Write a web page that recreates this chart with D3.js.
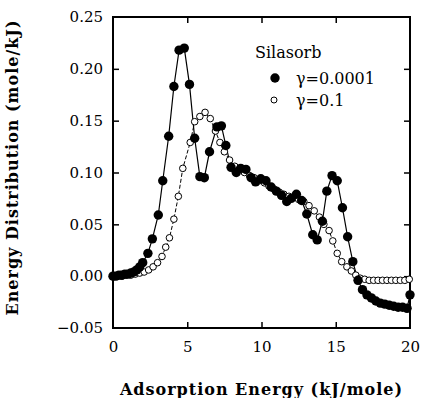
<!DOCTYPE html>
<html>
<head>
<meta charset="utf-8">
<script src="https://cdn.jsdelivr.net/npm/d3@7"></script>
<style>
    body { margin: 0; background: #fff; }
    .tick-label { font-family: "DejaVu Serif", serif; font-size: 15px; fill: #000; }
    .axis-title { font-family: "DejaVu Serif", serif; font-size: 16px; font-weight: bold; letter-spacing: 1px; fill: #000; }
    .legend-text { font-family: "DejaVu Serif", serif; font-size: 16px; fill: #000; }
</style>
</head>
<body>
<div id="chart"></div>
<script>
// gamma = 0.0001 (filled circles)
var energyFilled = [0.0, 0.2, 0.4, 0.6, 0.8, 1.0, 1.2, 1.4, 1.6, 1.8, 2.0, 2.35, 2.65, 3.05, 3.35, 3.75, 4.1, 4.45, 4.8, 5.15,
    5.5, 5.85, 6.15, 6.5, 7.0, 7.3, 7.6, 7.95, 8.3, 8.6, 8.95, 9.3, 9.6, 9.95, 10.3, 10.65, 11.0, 11.35, 11.7, 12.0,
    12.35, 12.7, 13.05, 13.45, 13.75, 14.1, 14.4, 14.75, 15.1, 15.45, 15.8, 16.15, 16.5, 16.8, 17.1, 17.4, 17.7, 18.0, 18.3, 18.6,
    18.9, 19.2, 19.5, 19.8, 20.0];
var distFilled = [0.000, 0.000, 0.001, 0.001, 0.002, 0.002, 0.003, 0.004, 0.006, 0.009, 0.013, 0.022, 0.036, 0.059, 0.092, 0.135, 0.183, 0.218, 0.220, 0.185,
    0.133, 0.096, 0.095, 0.120, 0.144, 0.145, 0.126, 0.105, 0.100, 0.104, 0.103, 0.095, 0.091, 0.094, 0.092, 0.086, 0.082, 0.078, 0.072, 0.075,
    0.079, 0.073, 0.060, 0.040, 0.035, 0.053, 0.082, 0.097, 0.092, 0.066, 0.038, 0.014, -0.004, -0.013, -0.018, -0.021, -0.024, -0.026, -0.027, -0.028,
    -0.029, -0.030, -0.030, -0.031, -0.018];

// gamma = 0.1 (open circles)
var energyOpen = [0.0, 0.3, 0.6, 0.9, 1.2, 1.5, 1.8, 2.1, 2.4, 2.7, 3.0, 3.3, 3.55, 3.8, 4.1, 4.4, 4.7, 5.2, 5.5, 5.85,
    6.2, 6.55, 6.9, 7.2, 7.5, 7.85, 8.2, 8.5, 8.85, 9.2, 9.5, 9.85, 10.2, 10.5, 10.85, 11.2, 11.5, 11.85, 12.2, 12.5,
    12.85, 13.2, 13.55, 13.9, 14.2, 14.55, 14.8, 15.1, 15.4, 15.75, 16.05, 16.35, 16.65, 16.95, 17.25, 17.55, 17.85, 18.15, 18.45, 18.75,
    19.05, 19.35, 19.65, 19.95];
var distOpen = [0.000, 0.000, 0.000, 0.001, 0.001, 0.002, 0.003, 0.004, 0.006, 0.009, 0.013, 0.019, 0.028, 0.037, 0.055, 0.077, 0.104, 0.129, 0.149, 0.154,
    0.158, 0.152, 0.140, 0.129, 0.120, 0.112, 0.106, 0.103, 0.100, 0.097, 0.095, 0.092, 0.090, 0.087, 0.084, 0.081, 0.079, 0.077, 0.076, 0.074,
    0.072, 0.068, 0.063, 0.057, 0.050, 0.044, 0.034, 0.022, 0.014, 0.009, 0.005, 0.001, -0.002, -0.003, -0.004, -0.004, -0.004, -0.004, -0.004, -0.004,
    -0.004, -0.004, -0.004, -0.003];

var xTicks = [0, 5, 10, 15, 20];
var yTicks = [-0.05, 0.00, 0.05, 0.10, 0.15, 0.20, 0.25];
var legendTitle = "Silasorb";
var seriesNames = ["\u03b3=0.0001", "\u03b3=0.1"];

var margin = { top: 17, right: 12, bottom: 70, left: 113 };
var width = 422 - margin.left - margin.right;
var height = 398 - margin.top - margin.bottom;

var svg = d3.select("#chart")
    .append("svg")
    .attr("width", 422)
    .attr("height", 398)
    .append("g")
    .attr("transform", "translate(" + margin.left + "," + margin.top + ")");

var xScale = d3.scaleLinear().domain([0, 20]).range([0, width]);
var yScale = d3.scaleLinear().domain([-0.05, 0.25]).range([height, 0]);

var fmtY = function (d) { return d3.format(".2f")(d).replace("-", "\u2212"); };

// axes: ticks point inward on all four sides
function styleAxis(g) {
    g.select(".domain").remove();
    g.selectAll(".tick line").attr("stroke", "#000").attr("stroke-width", 1.5);
}

svg.append("g")
    .call(d3.axisBottom(xScale).tickValues(xTicks).tickSize(0).tickPadding(13).tickFormat(d3.format("d")))
    .attr("transform", "translate(0," + height + ")")
    .call(styleAxis)
    .selectAll("text").attr("class", "tick-label");

svg.append("g")
    .call(d3.axisLeft(yScale).tickValues(yTicks).tickSize(0).tickPadding(10).tickFormat(fmtY))
    .call(styleAxis)
    .selectAll("text").attr("class", "tick-label");

svg.append("g")
    .attr("transform", "translate(0," + height + ")")
    .call(d3.axisTop(xScale).tickValues(xTicks.slice(1, -1)).tickSize(6).tickFormat(""))
    .call(styleAxis);
svg.append("g")
    .call(d3.axisBottom(xScale).tickValues(xTicks.slice(1, -1)).tickSize(6).tickFormat(""))
    .call(styleAxis);
svg.append("g")
    .call(d3.axisRight(yScale).tickValues(yTicks.slice(1, -1)).tickSize(6).tickFormat(""))
    .call(styleAxis);
svg.append("g")
    .attr("transform", "translate(" + width + ",0)")
    .call(d3.axisLeft(yScale).tickValues(yTicks.slice(1, -1)).tickSize(6).tickFormat(""))
    .call(styleAxis);

// frame
svg.append("rect")
    .attr("x", 0).attr("y", 0)
    .attr("width", width).attr("height", height)
    .attr("fill", "none")
    .attr("stroke", "#000")
    .attr("stroke-width", 2);

var line = d3.line()
    .x(function (d) { return xScale(d[0]); })
    .y(function (d) { return yScale(d[1]); });

var filled = d3.zip(energyFilled, distFilled);
var open = d3.zip(energyOpen, distOpen);

svg.append("path")
    .datum(open)
    .attr("d", line)
    .attr("fill", "none")
    .attr("stroke", "#000")
    .attr("stroke-width", 1)
    .attr("stroke-dasharray", "4,2");

svg.append("path")
    .datum(filled)
    .attr("d", line)
    .attr("fill", "none")
    .attr("stroke", "#000")
    .attr("stroke-width", 1.2);

svg.selectAll(".pt-open")
    .data(open).enter()
    .append("circle")
    .attr("class", "pt-open")
    .attr("cx", function (d) { return xScale(d[0]); })
    .attr("cy", function (d) { return yScale(d[1]); })
    .attr("r", 3.3)
    .attr("fill", "#fff")
    .attr("stroke", "#000")
    .attr("stroke-width", 1);

svg.selectAll(".pt-filled")
    .data(filled).enter()
    .append("circle")
    .attr("class", "pt-filled")
    .attr("cx", function (d) { return xScale(d[0]); })
    .attr("cy", function (d) { return yScale(d[1]); })
    .attr("r", 4.7)
    .attr("fill", "#000");

// legend
var legend = svg.append("g").attr("transform", "translate(142,0)");
legend.append("text")
    .attr("class", "legend-text")
    .attr("x", 0).attr("y", 41)
    .text(legendTitle);
legend.append("circle")
    .attr("cx", 20).attr("cy", 61).attr("r", 4.7).attr("fill", "#000");
legend.append("circle")
    .attr("cx", 19).attr("cy", 83).attr("r", 3).attr("fill", "#fff").attr("stroke", "#000");
legend.selectAll(".leg")
    .data(seriesNames).enter()
    .append("text")
    .attr("class", "legend-text")
    .attr("x", 41)
    .attr("y", function (d, i) { return 67 + i * 22; })
    .text(function (d) { return d; });

// axis titles
svg.append("text")
    .attr("class", "axis-title")
    .attr("x", width / 2).attr("y", height + 67)
    .attr("text-anchor", "middle")
    .text("Adsorption Energy (kJ/mole)");

svg.append("text")
    .attr("class", "axis-title")
    .attr("transform", "translate(-95," + (height / 2 - 5) + ") rotate(-90)")
    .attr("text-anchor", "middle")
    .text("Energy Distribution (mole/kJ)");
</script>
</body>
</html>
